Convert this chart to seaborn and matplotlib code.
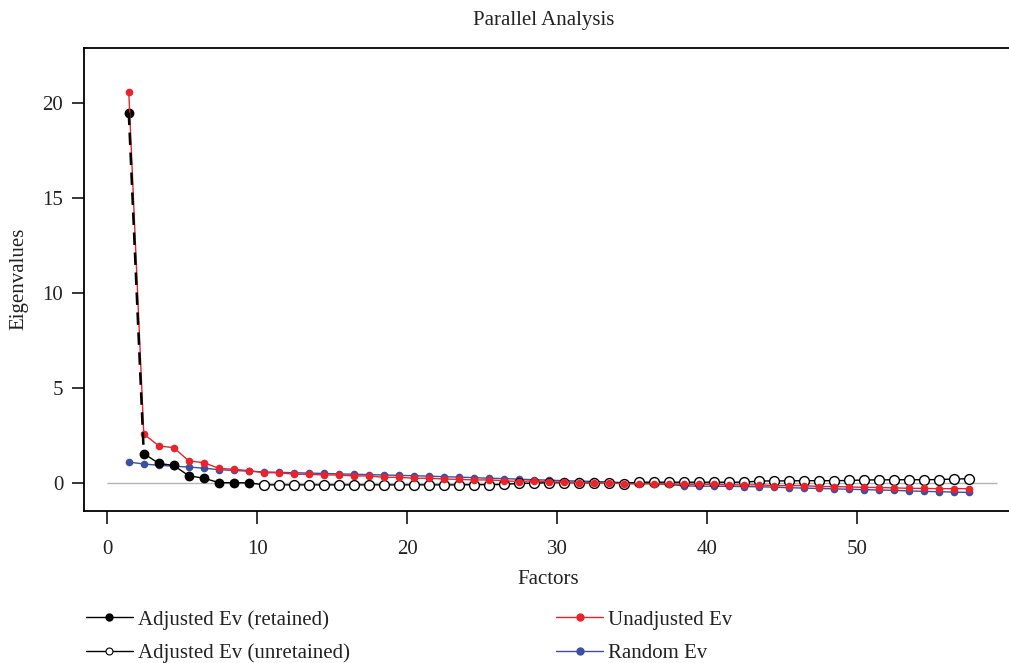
"""Parallel analysis scree plot: adjusted, unadjusted and random eigenvalues."""

import matplotlib

matplotlib.use("Agg")
import matplotlib.pyplot as plt
from matplotlib.lines import Line2D
import numpy as np
import pandas as pd
import seaborn as sns


FACTORS = list(range(1, 58))
N_RETAINED = 9

ADJUSTED = [
    19.5, 1.55, 1.03, 0.92, 0.38, 0.25, 0.02, 0.01, 0.01,
    -0.10, -0.10, -0.10, -0.10, -0.10, -0.10, -0.10, -0.10, -0.10, -0.10,
    -0.10, -0.10, -0.10, -0.10, -0.09, -0.09, -0.08, -0.02, -0.01,
    0.02, 0.02, 0.02, 0.02, 0.02, -0.03,
    0.04, 0.04, 0.04, 0.04, 0.04, 0.04, 0.04, 0.04,
    0.10, 0.11, 0.11, 0.12, 0.12, 0.12, 0.13,
    0.16, 0.16, 0.17, 0.17, 0.17, 0.18,
    0.21, 0.22,
]
UNADJUSTED = [
    20.6, 2.58, 1.95, 1.86, 1.16, 1.07, 0.77, 0.72, 0.65, 0.54,
    0.54, 0.46, 0.46, 0.42, 0.42, 0.37, 0.37, 0.30, 0.30, 0.25,
    0.25, 0.21, 0.19, 0.16, 0.16, 0.12, 0.07, 0.12, 0.05, 0.05,
    0.02, 0.00, 0.02, -0.05, -0.05, -0.05, -0.05, -0.07, -0.07, -0.07,
    -0.10, -0.10, -0.10, -0.14, -0.14, -0.14, -0.19, -0.19, -0.21, -0.23,
    -0.24, -0.26, -0.28, -0.29, -0.30, -0.30, -0.30,
]
RANDOM = [
    1.10, 1.00, 0.93, 0.88, 0.84, 0.78, 0.70, 0.66, 0.62, 0.58,
    0.56, 0.54, 0.52, 0.50, 0.48, 0.46, 0.44, 0.42, 0.40, 0.38,
    0.36, 0.33, 0.31, 0.28, 0.25, 0.23, 0.20, 0.17, 0.15, 0.12,
    0.10, 0.08, 0.05, 0.02, 0.00, -0.03, -0.08, -0.15, -0.17, -0.17,
    -0.18, -0.19, -0.20, -0.22, -0.25, -0.27, -0.29, -0.31, -0.33, -0.35,
    -0.37, -0.39, -0.42, -0.44, -0.46, -0.48, -0.50,
]

X_SHIFT = 0.45
RED = "#e8232b"
BLUE = "#3b4fa5"
TEXT = "#222222"
FONT_SIZE = 15


def main() -> None:
    sns.set_theme(style="ticks")
    plt.rcParams["font.family"] = ["Liberation Serif", "DejaVu Serif"]

    df = pd.DataFrame(
        {
            "factor": np.array(FACTORS) + X_SHIFT,
            "adjusted": ADJUSTED,
            "unadjusted": UNADJUSTED,
            "random": RANDOM,
        }
    )
    retained = df.iloc[:N_RETAINED]
    unretained = df.iloc[N_RETAINED:]

    fig = plt.figure(figsize=(10.09, 6.63), dpi=100)
    ax = fig.add_axes([0.0833, 0.230, 0.92, 0.6976])

    ax.hlines(0, 0, 59.3, color="#b4b4b4", linewidth=1, zorder=1)

    sns.lineplot(data=df, x="factor", y="random", color=BLUE, linewidth=1,
                 marker="o", markersize=5.5, markeredgewidth=0, ax=ax, zorder=2)

    # black path: solid from factor 2 on, dashed first drop
    sns.lineplot(data=df.iloc[1:], x="factor", y="adjusted", color="black",
                 linewidth=1, ax=ax, zorder=3)
    sns.scatterplot(data=retained, x="factor", y="adjusted", color="black",
                    s=50, linewidth=0, ax=ax, zorder=4)
    sns.scatterplot(data=unretained, x="factor", y="adjusted", color="white",
                    edgecolor="black", s=50, linewidth=1, ax=ax, zorder=4)

    sns.lineplot(data=df, x="factor", y="unadjusted", color=RED, linewidth=1,
                 marker="o", markersize=5.5, markeredgewidth=0, ax=ax, zorder=5)
    sns.lineplot(data=df.iloc[:2], x="factor", y="adjusted", color="black",
                 linewidth=1.8, linestyle=(0, (5, 3)), ax=ax, zorder=6)

    ax.set_xlim(-1.53, 60.33)
    ax.set_ylim(-1.45, 22.9)
    ax.set_xticks([0, 10, 20, 30, 40, 50])
    ax.set_yticks([0, 5, 10, 15, 20])
    ax.tick_params(axis="both", direction="out", length=9, width=1.1,
                   labelsize=FONT_SIZE, color="black", labelcolor=TEXT, pad=12)
    ax.tick_params(axis="y", pad=6)
    for side in ["left", "bottom", "top"]:
        ax.spines[side].set_color("black")
        ax.spines[side].set_linewidth(1.3)
    ax.spines["right"].set_visible(False)

    ax.set_xlabel("Factors", fontsize=FONT_SIZE, color=TEXT, labelpad=8)
    ax.set_ylabel("Eigenvalues", fontsize=FONT_SIZE, color=TEXT, labelpad=10)
    fig.text(544 / 1009, 1 - 20 / 663, "Parallel Analysis", ha="center", va="center",
             fontsize=FONT_SIZE, color=TEXT)

    handles = [
        Line2D([], [], color="black", linewidth=1, marker="o", markersize=5),
        Line2D([], [], color="black", linewidth=1, marker="o", markersize=5,
               markerfacecolor="white", markeredgewidth=0.8),
        Line2D([], [], color=RED, linewidth=1, marker="o", markersize=5),
        Line2D([], [], color=BLUE, linewidth=1, marker="o", markersize=5),
    ]
    labels = [
        "Adjusted Ev (retained)",
        "Adjusted Ev (unretained)",
        "Unadjusted Ev",
        "Random Ev",
    ]
    fig.legend(handles, labels, loc="lower left", bbox_to_anchor=(86 / 1009, 0.0),
               ncol=2, frameon=False, fontsize=FONT_SIZE, handlelength=2.25,
               handletextpad=0.25, columnspacing=9.9, labelspacing=0.66,
               borderpad=0, borderaxespad=0, labelcolor=TEXT)

    fig.savefig("out.png", dpi=100)
    plt.close(fig)


if __name__ == "__main__":
    main()
